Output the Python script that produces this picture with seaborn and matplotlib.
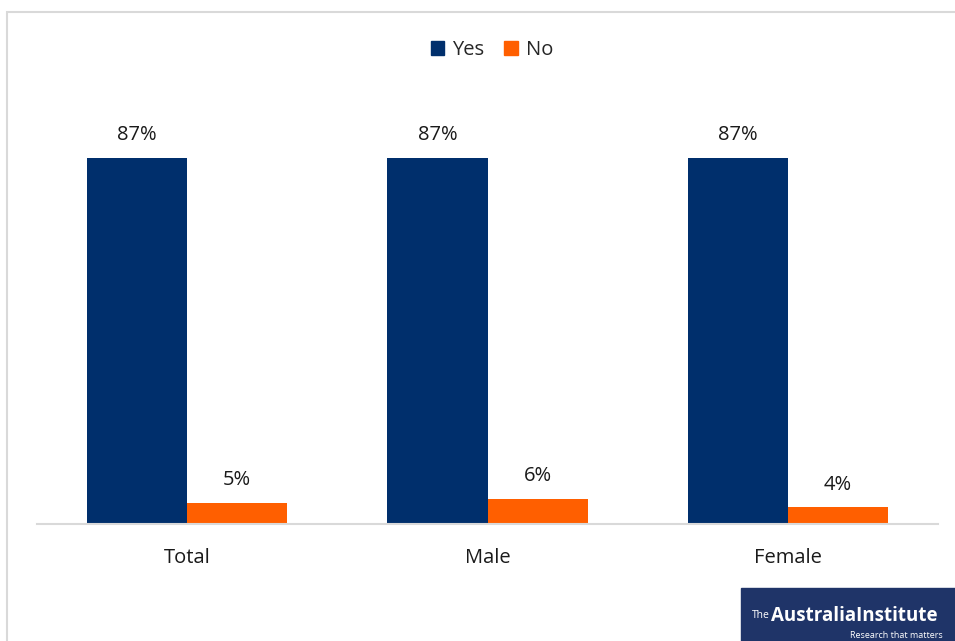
import matplotlib
matplotlib.use('Agg')
import matplotlib.pyplot as plt
import pandas as pd
import seaborn as sns
from matplotlib.patches import Rectangle

# ── Data ──
groups = ["Total", "Male", "Female"]
answers = ["Yes", "No"]
yes_vals = [87, 87, 87]
no_vals = [5, 6, 4]

NAVY = '#002F6C'
ORANGE = '#FF5F00'

df = pd.DataFrame({
    "group": groups * 2,
    "answer": ["Yes"] * 3 + ["No"] * 3,
    "value": yes_vals + no_vals,
})

sns.set_style('white')
plt.rcParams['font.family'] = ['Open Sans', 'DejaVu Sans']

fig = plt.figure(figsize=(9.55, 6.41), dpi=100)
ax = fig.add_axes([37 / 955, 117 / 641, 901 / 955, 421 / 641])

sns.barplot(data=df, x="group", y="value", hue="answer", order=groups,
            hue_order=answers, palette=[NAVY, ORANGE], width=0.667,
            saturation=1, linewidth=0, ax=ax, legend=False)

ax.set_ylim(0, 100)
ax.set_xlim(-0.5, 2.5)
for cont in ax.containers:
    ax.bar_label(cont, labels=[f"{v:.0f}%" for v in cont.datavalues],
                 padding=9, fontsize=14.5, color='#1a1a1a')

ax.set_xlabel('')
ax.set_ylabel('')
ax.set_yticks([])
ax.tick_params(axis='x', length=0, labelsize=14.5, pad=17, colors='#1a1a1a')
for side in ['left', 'right', 'top']:
    ax.spines[side].set_visible(False)
ax.spines['bottom'].set_color('#d9d9d9')
ax.spines['bottom'].set_linewidth(1.5)

# legend
handles = [Rectangle((0, 0), 1, 1, color=c) for c in (NAVY, ORANGE)]
fig.legend(handles, answers, loc='center', bbox_to_anchor=(492 / 955, 1 - 50 / 641),
           ncol=2, frameon=False, fontsize=14.5, handlelength=0.65, handleheight=0.65,
           handletextpad=0.4, columnspacing=1.0)

# outer frame
fig.patches.append(Rectangle((7 / 955, -0.1), 1.1, 1 - 12 / 641 + 0.1,
                             transform=fig.transFigure, fill=False,
                             edgecolor='#d9d9d9', linewidth=1.5))

# logo
fig.patches.append(Rectangle((741 / 955, 0), 214 / 955, 53 / 641,
                             transform=fig.transFigure, color='#1F3468', zorder=5))
fig.text(752 / 955, 1 - 618 / 641, "The", color='white', fontsize=7.5,
         va='baseline', zorder=6)
fig.text(771 / 955, 1 - 621 / 641, "AustraliaInstitute", color='white', fontsize=13.5,
         fontweight='bold', va='baseline', zorder=6)
fig.text(850 / 955, 1 - 640 / 641, "Research that matters", color='white', fontsize=6.5,
         va='bottom', zorder=6)

fig.savefig('out.png', dpi=100, facecolor='white')
